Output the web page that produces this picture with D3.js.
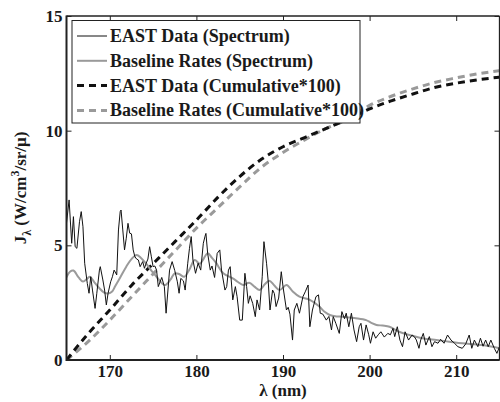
<!DOCTYPE html>
<html>
<head>
<meta charset="utf-8">
<script src="https://cdn.jsdelivr.net/npm/d3@7"></script>
<style>
  body { margin: 0; background: #fff; }
</style>
</head>
<body>
<svg id="chart" width="500" height="402"></svg>
<script>
// Spectrum, EAST data [lambda (nm), J]
const eastSpectrum = [
  [165.0, 5.97], [165.3, 6.98], [165.6, 5.09], [165.8, 6.25], [166.0, 4.94], [166.2, 4.87],
  [166.5, 6.03], [166.7, 6.47], [166.9, 5.81], [167.1, 4.22], [167.4, 3.34], [167.6, 2.91],
  [167.8, 3.63], [168.0, 3.05], [168.3, 2.25], [168.5, 2.91], [168.8, 3.92], [168.9, 4.07],
  [169.2, 3.49], [169.4, 3.05], [169.6, 2.4], [169.8, 2.91], [170.1, 3.41], [170.3, 3.63],
  [170.5, 3.92], [170.8, 3.71], [171.0, 5.67], [171.2, 6.47], [171.3, 6.54], [171.5, 5.67],
  [171.7, 4.8], [171.9, 5.31], [172.1, 5.96], [172.3, 5.53], [172.5, 5.5], [172.7, 4.8],
  [172.9, 4.5], [173.1, 4.4], [173.3, 4.36], [173.5, 4.07], [173.8, 4.29], [174.0, 4.0],
  [174.2, 4.22], [174.4, 4.4], [174.6, 4.94], [174.8, 4.5], [175.0, 4.07], [175.2, 4.1],
  [175.4, 3.92], [175.6, 3.2], [176.0, 3.6], [176.3, 3.2], [176.5, 2.04], [176.9, 3.92],
  [177.2, 4.29], [177.5, 3.9], [177.8, 3.41], [178.0, 2.91], [178.2, 3.56], [178.5, 3.45],
  [178.7, 3.05], [179.0, 4.22], [179.2, 4.87], [179.4, 5.38], [179.6, 4.36], [179.9, 3.78],
  [180.2, 4.22], [180.5, 3.92], [180.8, 5.09], [181.0, 5.4], [181.1, 5.52], [181.3, 4.65],
  [181.6, 3.92], [181.8, 4.1], [182.1, 3.6], [182.4, 4.65], [182.7, 4.8], [182.9, 3.92],
  [183.3, 3.05], [183.5, 3.2], [183.7, 3.92], [183.9, 4.07], [184.2, 2.62], [184.5, 3.2],
  [184.7, 2.76], [185.0, 1.74], [185.3, 1.74], [185.6, 3.78], [185.8, 3.2], [186.0, 2.47],
  [186.2, 2.8], [186.5, 2.47], [186.8, 1.89], [187.0, 2.62], [187.3, 2.18], [187.6, 3.63],
  [187.8, 5.16], [188.1, 4.22], [188.3, 3.4], [188.5, 2.18], [188.8, 3.05], [189.0, 2.9],
  [189.2, 2.33], [189.5, 2.7], [189.8, 3.85], [190.0, 3.2], [190.4, 2.18], [190.6, 2.3],
  [190.8, 2.0], [191.1, 0.87], [191.3, 2.18], [191.6, 2.47], [191.9, 2.04], [192.3, 2.76],
  [192.6, 3.0], [192.9, 3.27], [193.1, 1.45], [193.4, 2.18], [193.8, 2.76], [194.1, 2.84],
  [194.3, 2.04], [194.6, 2.0], [195.0, 1.74], [195.3, 1.9], [195.6, 1.31], [195.8, 1.89],
  [196.1, 1.6], [196.5, 1.16], [196.8, 2.11], [197.1, 1.8], [197.3, 2.04], [197.6, 1.45],
  [197.9, 2.04], [198.2, 1.31], [198.5, 0.8], [198.8, 1.45], [199.0, 1.6], [199.3, 0.87],
  [199.6, 1.53], [199.9, 1.1], [200.1, 0.73], [200.4, 1.23], [200.7, 0.95], [201.0, 1.1],
  [201.3, 1.23], [201.7, 1.0], [202.1, 1.16], [202.4, 1.1], [202.7, 1.38], [202.9, 1.02],
  [203.2, 1.45], [203.5, 0.87], [203.8, 0.58], [204.1, 1.23], [204.5, 0.87], [204.9, 1.09],
  [205.2, 1.0], [205.4, 0.87], [205.7, 0.51], [205.9, 0.87], [206.2, 1.16], [206.5, 0.65],
  [206.9, 1.02], [207.2, 0.58], [207.5, 0.8], [207.9, 0.73], [208.2, 0.9], [208.6, 0.73],
  [209.0, 1.09], [209.4, 0.87], [209.8, 0.73], [210.2, 0.58], [210.7, 0.51], [211.1, 0.7],
  [211.5, 1.09], [211.8, 0.51], [212.1, 0.87], [212.5, 0.58], [212.8, 0.95], [213.1, 0.6],
  [213.4, 0.87], [213.7, 0.58], [214.0, 0.87], [214.4, 0.51], [214.7, 0.29], [215.0, 0.58]
];

// Spectrum, baseline rates
const baseSpectrum = [
  [165.0, 3.6], [165.4, 3.85], [165.8, 3.9], [166.4, 3.6], [166.9, 3.42], [167.4, 3.55],
  [167.7, 3.63], [168.2, 3.4], [168.8, 3.13], [169.3, 2.95], [169.8, 2.9], [170.3, 3.0],
  [170.6, 3.2], [171.2, 3.6], [171.9, 4.07], [172.5, 4.4], [173.1, 4.58], [173.6, 4.45],
  [174.2, 4.2], [174.8, 3.9], [175.4, 3.63], [176.0, 3.35], [176.4, 3.27], [177.0, 3.5],
  [177.5, 3.78], [178.0, 3.75], [178.6, 3.63], [179.2, 3.95], [179.8, 4.36], [180.4, 4.2],
  [181.3, 4.65], [181.8, 4.45], [182.3, 4.22], [183.1, 3.78], [184.2, 3.56], [184.8, 3.4],
  [185.4, 3.27], [186.1, 3.37], [186.7, 3.2], [187.3, 3.05], [187.9, 3.3], [188.4, 3.46],
  [189.0, 3.25], [189.6, 3.05], [190.4, 3.27], [191.1, 3.0], [191.9, 2.76], [193.1, 2.62],
  [194.2, 2.33], [194.8, 2.1], [195.4, 1.96], [196.2, 1.9], [196.9, 1.89], [197.7, 1.85],
  [198.4, 1.82], [199.6, 1.74], [200.2, 1.62], [200.8, 1.53], [201.5, 1.5], [202.3, 1.45],
  [203.4, 1.23], [204.6, 1.09], [206.1, 0.95], [207.7, 0.87], [209.2, 0.8], [210.7, 0.73],
  [213.0, 0.65], [215.0, 0.51]
];

// Cumulative * 100
const eastCumulative = [
  [165, 0], [167.5, 1.15], [170, 2.18], [172.5, 3.25], [175, 4.2], [177.5, 5.15], [180, 6.1],
  [182.5, 7.1], [185, 8.0], [187.5, 8.75], [190, 9.3], [192.5, 9.7], [195, 10.1], [197.5, 10.5],
  [200, 10.95], [202.5, 11.3], [205, 11.6], [207.5, 11.88], [210, 12.07], [212.5, 12.22], [215, 12.33]
];
const baseCumulative = [
  [165, 0], [167.5, 0.8], [170, 1.74], [172.5, 2.75], [175, 3.75], [177.5, 4.75], [180, 5.75],
  [182.5, 6.65], [185, 7.55], [187.5, 8.4], [190, 9.05], [192.5, 9.6], [195, 10.1], [197.5, 10.5],
  [200, 11.1], [202.5, 11.5], [205, 11.82], [207.5, 12.1], [210, 12.3], [212.5, 12.48], [215, 12.62]
];

const xTicks = [170, 180, 190, 200, 210];
const yTicks = [0, 5, 10, 15];
const legendLabels = [
  'EAST Data (Spectrum)',
  'Baseline Rates (Spectrum)',
  'EAST Data (Cumulative*100)',
  'Baseline Rates (Cumulative*100)'
];

const serif = '"Liberation Serif"';
const plot = { left: 66.5, right: 499.5, top: 16, bottom: 360 };
const svg = d3.select('#chart');
const x = d3.scaleLinear().domain([165, 215]).range([plot.left, plot.right]);
const y = d3.scaleLinear().domain([0, 15]).range([plot.bottom, plot.top]);

function serifText(sel, size) {
  return sel.style('font-family', serif).style('font-weight', 'bold').style('font-size', `${size}px`).attr('fill', '#1a1a1a');
}

svg.append('defs').append('clipPath').attr('id', 'clip')
  .append('rect')
  .attr('x', plot.left).attr('y', plot.top)
  .attr('width', plot.right - plot.left).attr('height', plot.bottom - plot.top);

// Series styles, in legend order
const series = [
  { data: eastSpectrum, color: '#111', width: 1, dash: null, curve: d3.curveLinear },
  { data: baseSpectrum, color: '#9a9a9a', width: 2, dash: null, curve: d3.curveCatmullRom },
  { data: eastCumulative, color: '#111', width: 3, dash: '7,5', curve: d3.curveMonotoneX },
  { data: baseCumulative, color: '#9a9a9a', width: 3, dash: '7,5', curve: d3.curveMonotoneX }
];

const gLines = svg.append('g').attr('clip-path', 'url(#clip)');
// Cumulative below, spectra on top
[3, 2, 1, 0].forEach((i) => {
  const s = series[i];
  const line = d3.line().x((d) => x(d[0])).y((d) => y(d[1])).curve(s.curve);
  gLines.append('path')
    .attr('d', line(s.data))
    .attr('fill', 'none')
    .attr('stroke', s.color)
    .attr('stroke-width', s.width)
    .attr('stroke-dasharray', s.dash)
    .attr('stroke-linejoin', 'round');
});

// Axes: ticks pointing inward, MATLAB style
function styleAxis(g) {
  g.attr('font-family', null).attr('font-size', null);
  g.select('.domain').remove();
  g.selectAll('.tick line').attr('stroke', '#222').attr('stroke-width', 1);
  g.selectAll('.tick text').call(serifText, 17);
}
svg.append('g').attr('transform', `translate(0,${plot.bottom})`)
  .call(d3.axisBottom(x).tickValues(xTicks).tickSizeInner(-5).tickSizeOuter(0).tickPadding(5))
  .call(styleAxis);
svg.append('g').attr('transform', `translate(0,${plot.top})`)
  .call(d3.axisTop(x).tickValues(xTicks).tickSizeInner(-5).tickSizeOuter(0).tickFormat(''))
  .call(styleAxis);
svg.append('g').attr('transform', `translate(${plot.left},0)`)
  .call(d3.axisLeft(y).tickValues(yTicks).tickSizeInner(-5).tickSizeOuter(0).tickPadding(4))
  .call(styleAxis);
svg.append('g').attr('transform', `translate(${plot.right},0)`)
  .call(d3.axisRight(y).tickValues(yTicks).tickSizeInner(-5).tickSizeOuter(0).tickFormat(''))
  .call(styleAxis);

// Frame
svg.append('line').attr('x1', plot.left).attr('x2', plot.right).attr('y1', plot.top).attr('y2', plot.top)
  .attr('stroke', '#222').attr('stroke-width', 1.3);
svg.append('line').attr('x1', plot.right).attr('x2', plot.right).attr('y1', plot.top).attr('y2', plot.bottom)
  .attr('stroke', '#222').attr('stroke-width', 1.3);
svg.append('line').attr('x1', plot.left).attr('x2', plot.left).attr('y1', plot.top - 0.6).attr('y2', plot.bottom + 1)
  .attr('stroke', '#222').attr('stroke-width', 2);
svg.append('line').attr('x1', plot.left).attr('x2', plot.right).attr('y1', plot.bottom).attr('y2', plot.bottom)
  .attr('stroke', '#222').attr('stroke-width', 2);

// Axis titles
svg.append('text')
  .attr('x', 283).attr('y', 396)
  .attr('text-anchor', 'middle')
  .call(serifText, 17)
  .text('λ (nm)');

const yTitle = svg.append('text')
  .attr('transform', 'translate(26,188) rotate(-90)')
  .attr('text-anchor', 'middle')
  .call(serifText, 17);
yTitle.append('tspan').text('J');
yTitle.append('tspan').attr('dy', 5).style('font-size', '12px').text('λ');
yTitle.append('tspan').attr('dy', -5).text(' (W/cm');
yTitle.append('tspan').attr('dy', -7).style('font-size', '12px').text('3');
yTitle.append('tspan').attr('dy', 7).text('/sr/μ)');

// Legend
const legend = svg.append('g');
legend.append('rect')
  .attr('x', 72).attr('y', 20.5).attr('width', 288).attr('height', 102.5)
  .attr('fill', '#fff').attr('stroke', '#222').attr('stroke-width', 1);
legendLabels.forEach((label, i) => {
  const s = series[i];
  const cy = 36 + i * 24.8;
  legend.append('line')
    .attr('x1', 77).attr('x2', 107).attr('y1', cy).attr('y2', cy)
    .attr('stroke', s.color)
    .attr('stroke-width', s.width)
    .attr('stroke-dasharray', s.dash);
  legend.append('text')
    .attr('x', 110).attr('y', cy + 6)
    .call(serifText, 18)
    .text(label);
});
</script>
</body>
</html>
